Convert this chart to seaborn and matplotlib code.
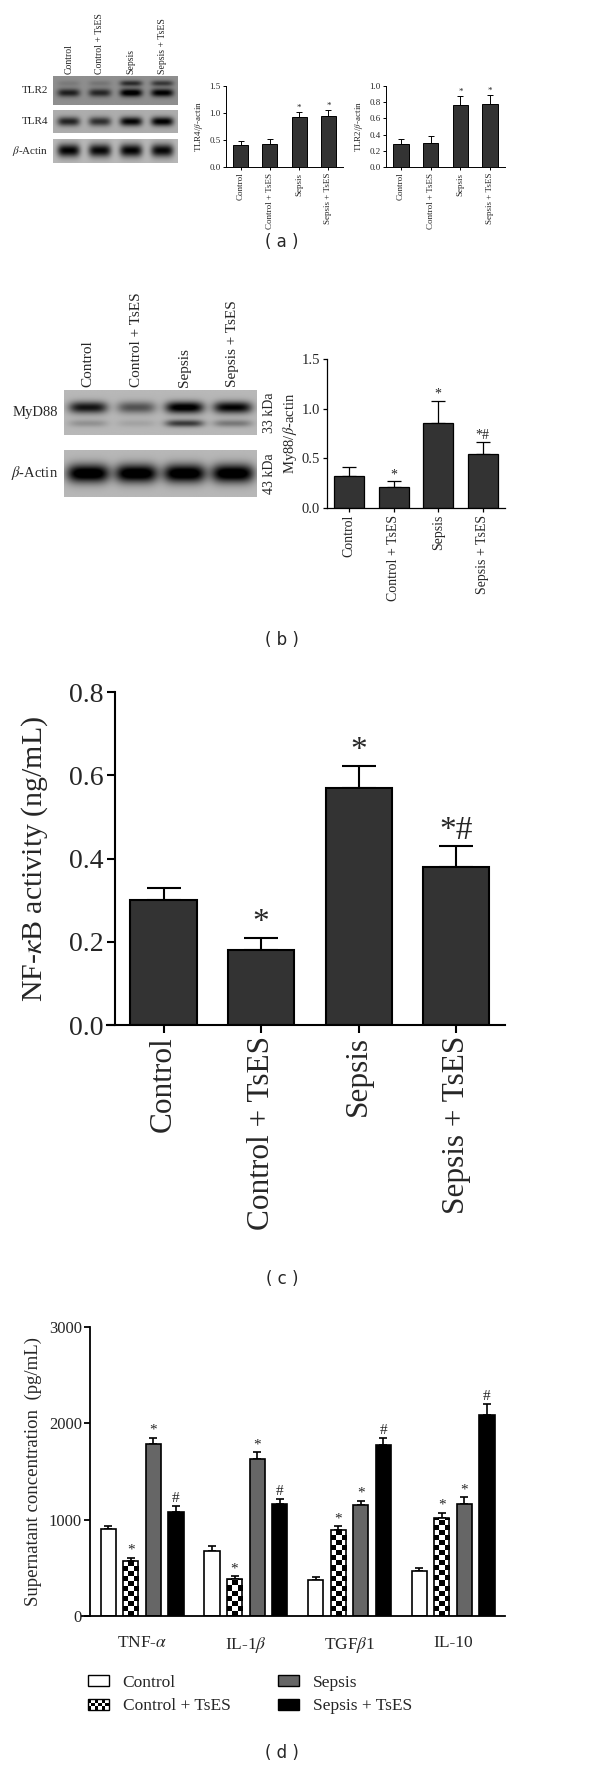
import numpy as np
import pandas as pd
import matplotlib
matplotlib.use("Agg")
import matplotlib.pyplot as plt
from matplotlib.colors import ListedColormap
from matplotlib.patches import Patch, Rectangle
from matplotlib.legend_handler import HandlerBase
import seaborn as sns

################################################################
# data
groups = ["Control", "Control + TsES", "Sepsis", "Sepsis + TsES"]

# (a) blot band strengths per lane + densitometry
tlr2_band = [0.45, 0.42, 0.62, 0.58]
tlr2_upper_band = [0.08, 0.1, 0.4, 0.35]
tlr4_band = [0.55, 0.5, 0.68, 0.7]
actin_a_band = [0.72, 0.7, 0.72, 0.7]
tlr4_ratio = [0.41, 0.42, 0.92, 0.95]
tlr4_sem = [0.08, 0.10, 0.10, 0.10]
tlr4_sig = ["", "", "*", "*"]
tlr2_ratio = [0.28, 0.30, 0.77, 0.78]
tlr2_sem = [0.06, 0.08, 0.11, 0.11]
tlr2_sig = ["", "", "*", "*"]

# (b)
myd88_band = [0.65, 0.4, 0.78, 0.72]
myd88_lower_band = [0.15, 0.08, 0.5, 0.25]
actin_b_band = [0.85, 0.85, 0.85, 0.85]
myd88_ratio = [0.32, 0.21, 0.86, 0.54]
myd88_sem = [0.09, 0.06, 0.22, 0.12]
myd88_sig = ["", "*", "*", "*#"]

# (c)
nfkb = [0.30, 0.18, 0.57, 0.38]
nfkb_sem = [0.03, 0.03, 0.053, 0.049]
nfkb_sig = ["", "*", "*", "*#"]

# (d)
cytokines = [r"TNF-$\alpha$", r"IL-1$\beta$", r"TGF$\beta$1", "IL-10"]
control_pg = [900, 670, 370, 465]
control_sem = [35, 55, 35, 30]
control_tses_pg = [570, 380, 890, 1020]
control_tses_sem = [35, 35, 40, 50]
sepsis_pg = [1790, 1630, 1150, 1160]
sepsis_sem = [60, 70, 45, 75]
sepsis_tses_pg = [1080, 1160, 1780, 2090]
sepsis_tses_sem = [60, 50, 70, 110]
cyto_sig = ["", "*", "*", "#"]
cyto_colors = ["white", "white", "#666666", "black"]

################################################################
sns.set_theme(style="ticks")
SERIF = ["Liberation Serif", "DejaVu Serif"]
plt.rcParams["font.family"] = SERIF
plt.rcParams["mathtext.fontset"] = "stix"

W, H = 600, 1769
fig = plt.figure(figsize=(W / 100, H / 100), dpi=100)


def box(l, t, r, b):
    return fig.add_axes([l / W, 1 - b / H, (r - l) / W, (b - t) / H])


def draw_blot(ax, layers, bg, bw=0.09):
    xx, yy = np.meshgrid(np.linspace(0, 1, 480), np.linspace(0, 1, 90))
    img = np.full(xx.shape, bg)
    for strengths, yc, half in layers:
        for i, s in enumerate(strengths):
            cx = (i + 0.5) / len(strengths)
            img -= s * np.exp(-((xx - cx) / bw) ** 4 - ((yy - yc) / half) ** 2)
    ax.imshow(np.clip(img, 0, 1), cmap="gray", vmin=0, vmax=1, aspect="auto",
              origin="lower", extent=(0, 1, 0, 1), interpolation="bilinear")
    ax.set_xticks([])
    ax.set_yticks([])
    for s in ax.spines.values():
        s.set_visible(False)


def bar_panel(ax, vals, sems, sig, width, cap, lw, star_fs, ylim, yticks, tick_fs, ytick_fs, tlen, ext=0.0):
    sns.barplot(x=groups, y=vals, color="#333333", saturation=1, edgecolor="black",
                linewidth=lw, width=width, ax=ax)
    bars = list(ax.containers[0])
    xs = [b.get_x() + b.get_width() / 2 for b in bars]
    ax.errorbar(xs, vals, yerr=[np.zeros(len(vals)), sems], fmt="none", ecolor="black",
                elinewidth=lw, capsize=cap, capthick=lw, zorder=0.5)
    for x, v, e, m in zip(xs, vals, sems, sig):
        ax.text(x, v + e, m, ha="center", va="bottom", fontsize=star_fs)
    ax.set_xlim(-0.5 - ext, 3.5)
    ax.set_ylim(*ylim)
    ax.set_yticks(yticks)
    ax.set_yticklabels([f"{t:.1f}" for t in yticks], fontfamily=SERIF)
    ax.set_xlabel("")
    sns.despine(ax=ax)
    if ext:
        ax.spines["left"].set_position(("data", -0.5))
    for s in ["left", "bottom"]:
        ax.spines[s].set_linewidth(lw)
        ax.spines[s].set_color("black")
    ax.tick_params(axis="x", labelrotation=90, labelsize=tick_fs, length=tlen, width=lw, color="black", pad=2)
    ax.tick_params(axis="y", labelsize=ytick_fs, length=tlen, width=lw, color="black", pad=2)


def lane_labels(ax, fs):
    for i, g in enumerate(groups):
        ax.text((i + 0.5) / len(groups), 1.06, g, rotation=90, ha="center", va="bottom",
                fontsize=fs, transform=ax.transAxes)


def panel_tag(y, tag):
    fig.text(282 / W, 1 - y / H, f"( {tag} )", ha="center", va="center",
             family="DejaVu Sans", fontsize=12)


################################################################
# (a)
a_tlr2 = box(53, 76, 178, 105)
draw_blot(a_tlr2, [(tlr2_band, 0.42, 0.14), (tlr2_upper_band, 0.75, 0.1)], 0.56)
lane_labels(a_tlr2, 7)
a_tlr4 = box(53, 110, 178, 133)
draw_blot(a_tlr4, [(tlr4_band, 0.5, 0.2)], 0.68)
a_act = box(53, 139, 178, 163)
draw_blot(a_act, [(actin_a_band, 0.5, 0.26)], 0.72)
for ax_, name in [(a_tlr2, "TLR2"), (a_tlr4, "TLR4"), (a_act, r"$\beta$-Actin")]:
    ax_.text(-0.04, 0.5, name, ha="right", va="center", fontsize=8, transform=ax_.transAxes)

a_c1 = box(226, 86, 343, 167)
bar_panel(a_c1, tlr4_ratio, tlr4_sem, tlr4_sig, 0.52, 2.5, 0.7, 6.5, (0, 1.5),
          [0.0, 0.5, 1.0, 1.5], 6.5, 6.5, 2)
a_c1.set_ylabel(r"TLR4/$\beta$-actin", fontsize=6.5, labelpad=3)

a_c2 = box(386, 86, 505, 167)
bar_panel(a_c2, tlr2_ratio, tlr2_sem, tlr2_sig, 0.52, 2.5, 0.7, 6.5, (0, 1.0),
          [0.0, 0.2, 0.4, 0.6, 0.8, 1.0], 6.5, 6.5, 2)
a_c2.set_ylabel(r"TLR2/$\beta$-actin", fontsize=6.5, labelpad=3)
panel_tag(242, "a")

################################################################
# (b)
b_my = box(64, 390, 257, 435)
draw_blot(b_my, [(myd88_band, 0.6, 0.13), (myd88_lower_band, 0.25, 0.08)], 0.72, 0.1)
lane_labels(b_my, 11)
b_act = box(64, 450, 257, 497)
draw_blot(b_act, [(actin_b_band, 0.5, 0.2)], 0.72, 0.11)
for ax_, name, kda in [(b_my, "MyD88", "33 kDa"), (b_act, r"$\beta$-Actin", "43 kDa")]:
    ax_.text(-0.03, 0.5, name, ha="right", va="center", fontsize=10.5, transform=ax_.transAxes)
    ax_.text(1.03, 0.5, kda, ha="left", va="center", rotation=90, fontsize=10, transform=ax_.transAxes)

b_c = box(327, 359, 505, 508)
bar_panel(b_c, myd88_ratio, myd88_sem, myd88_sig, 0.68, 5, 0.9, 10, (0, 1.5),
          [0.0, 0.5, 1.0, 1.5], 10, 10.5, 3)
b_c.set_ylabel(r"My88/$\beta$-actin", fontsize=10.5, labelpad=2)
panel_tag(640, "b")

################################################################
# (c)
c_ax = box(107, 692, 505, 1025)
bar_panel(c_ax, nfkb, nfkb_sem, nfkb_sig, 0.68, 12, 1.5, 24, (0, 0.8),
          [0.0, 0.2, 0.4, 0.6, 0.8], 22.5, 20, 6, ext=0.08)
c_ax.set_ylabel(r"NF-$\kappa$B activity (ng/mL)", fontsize=21.5, labelpad=14)
panel_tag(1279, "c")

################################################################
# (d)
d_df = pd.DataFrame({
    "cytokine": cytokines * 4,
    "group": np.repeat(groups, len(cytokines)),
    "value": control_pg + control_tses_pg + sepsis_pg + sepsis_tses_pg,
})
d_sems = [control_sem, control_tses_sem, sepsis_sem, sepsis_tses_sem]
d_vals = [control_pg, control_tses_pg, sepsis_pg, sepsis_tses_pg]

d_ax = box(82, 1327, 505, 1616)
sns.barplot(data=d_df, x="cytokine", y="value", hue="group", hue_order=groups,
            palette=cyto_colors, saturation=1, edgecolor="black", linewidth=1.2,
            width=0.87, gap=0.33, legend=False, ax=d_ax)
bar_conts = list(d_ax.containers)
d_ax.set_xlim(-0.58, 3.5)
d_ax.set_ylim(0, 3000)

x_px = d_ax.transData.transform([(0, 0), (1, 1000)])
px_per_x = x_px[1, 0] - x_px[0, 0]
px_per_y = (x_px[1, 1] - x_px[0, 1]) / 1000
checker_cmap = ListedColormap(["white", "black"])

for k, cont in enumerate(bar_conts):
    bars = list(cont)
    xs = [b.get_x() + b.get_width() / 2 for b in bars]
    d_ax.errorbar(xs, d_vals[k], yerr=[np.zeros(4), d_sems[k]], fmt="none", ecolor="black",
                  elinewidth=1.2, capsize=3, capthick=1.2, zorder=0.5)
    for x, v, e in zip(xs, d_vals[k], d_sems[k]):
        d_ax.text(x, v + e + 10, cyto_sig[k], ha="center", va="bottom", fontsize=11)
    if k == 1:
        for b in bars:
            b.set_facecolor("none")
            w, h = b.get_width(), b.get_height()
            cell_x = w / 3
            cell_y = cell_x * px_per_x / px_per_y
            nrows = int(np.ceil(h / cell_y))
            cells = np.indices((nrows, 3)).sum(axis=0) % 2
            im = d_ax.imshow(cells, cmap=checker_cmap, origin="lower", aspect="auto",
                             interpolation="nearest", vmin=0, vmax=1,
                             extent=(b.get_x(), b.get_x() + w, 0, nrows * cell_y),
                             zorder=b.get_zorder() - 0.1)
            im.set_clip_path(b)

d_ax.set_xlim(-0.58, 3.5)
d_ax.set_ylim(0, 3000)
d_ax.set_yticks([0, 1000, 2000, 3000])
d_ax.set_xlabel("")
d_ax.set_ylabel("Supernatant concentration  (pg/mL)", fontsize=13.5, labelpad=5)
sns.despine(ax=d_ax)
d_ax.spines["left"].set_position(("data", -0.5))
for s in ["left", "bottom"]:
    d_ax.spines[s].set_linewidth(1.3)
    d_ax.spines[s].set_color("black")
d_ax.tick_params(axis="x", labelsize=12.5, length=0, pad=14)
d_ax.tick_params(axis="y", labelsize=12, length=4, width=1.3, color="black", pad=2)


class CheckerHandler(HandlerBase):
    def create_artists(self, legend, orig_handle, xdescent, ydescent, width, height, fontsize, trans):
        x0, y0 = -xdescent, -ydescent
        arts = [Rectangle((x0, y0), width, height, facecolor="white", edgecolor="none", transform=trans)]
        nx, ny = 6, 3
        for i in range(nx):
            for j in range(ny):
                if (i + j) % 2 == 0:
                    arts.append(Rectangle((x0 + i * width / nx, y0 + j * height / ny), width / nx,
                                          height / ny, facecolor="black", edgecolor="none", transform=trans))
        arts.append(Rectangle((x0, y0), width, height, facecolor="none", edgecolor="black", lw=1, transform=trans))
        return arts


handles = [Patch(facecolor=c, edgecolor="black", linewidth=1) for c in cyto_colors]
fig.legend(handles, groups, loc="upper left", bbox_to_anchor=(88 / W, 1 - 1675 / H), ncol=2,
           frameon=False, fontsize=12.5, handlelength=1.2, handleheight=0.6, handletextpad=0.8,
           columnspacing=2.75, labelspacing=0.43, borderpad=0, borderaxespad=0,
           handler_map={handles[1]: CheckerHandler()})
panel_tag(1753, "d")

fig.savefig("out.png", dpi=100)
